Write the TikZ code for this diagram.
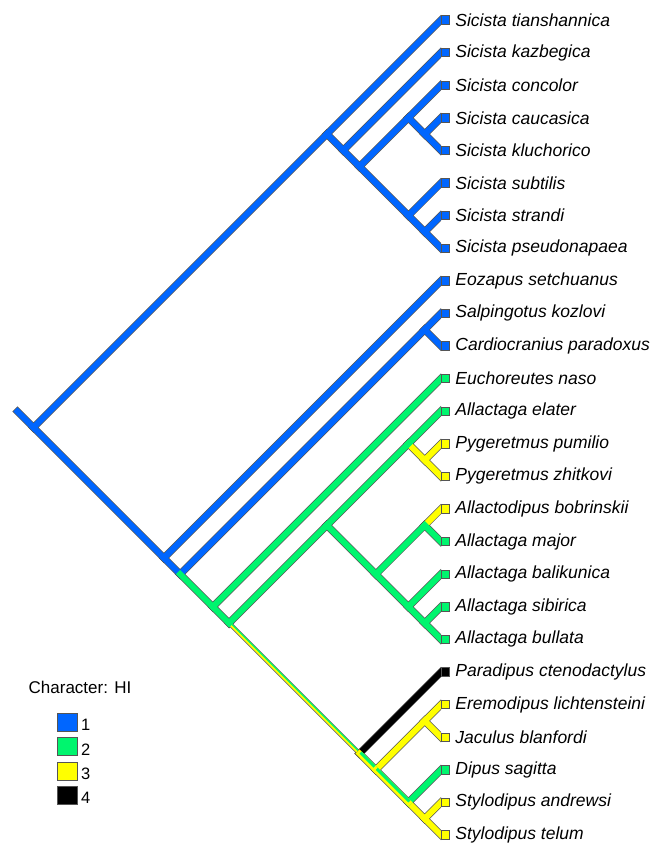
\documentclass[tikz,border=0pt]{standalone}
\usepackage{fontspec}
\setmainfont{Liberation Sans}
\usetikzlibrary{positioning}

\definecolor{stateone}{RGB}{0,102,255}
\definecolor{statetwo}{RGB}{0,245,110}
\definecolor{statethree}{RGB}{255,255,0}
\definecolor{statefour}{RGB}{0,0,0}
\definecolor{rim}{RGB}{85,85,85}

\tikzset{
    branch/.style={line width=6pt, line cap=rect},
    rimline/.style={line width=7.4pt, line cap=rect, draw=rim},
    tipbox/.style={draw=rim, line width=0.8pt, minimum size=8.4pt,
        inner sep=0pt, anchor=west},
    taxon/.style={inner sep=0pt, anchor=west,
        font=\fontsize{17.5}{20}\selectfont\itshape},
    keybox/.style={draw=rim, line width=0.8pt, minimum width=20pt,
        minimum height=18pt, inner sep=0pt},
    keylabel/.style={inner sep=0pt, font=\fontsize{16.5}{18}\selectfont}
}

\def\oneedges{stub/r, r/sic, sic/t1, sic/sicA, sicA/t2, sicA/sicB,
    sicB/sicC, sicC/t3, sicC/sicD, sicD/t4, sicD/t5, sicB/sicE, sicE/t6,
    sicE/sicF, sicF/t7, sicF/t8, r/dipA, dipA/t9, dipA/dipB, dipB/card,
    card/t10, card/t11}
\def\twoedges{dipB/dipC, dipC/t12, dipC/dipD, dipD/allA, allA/allB,
    allB/t13, allA/allC, allC/allD, allD/t17, allC/allE, allE/t18,
    allE/allF, allF/t19, allF/t20, jacD/t24}
\def\threeedges{allB/pyg, pyg/t14, pyg/t15, allD/t16, jacB/jacC,
    jacC/t22, jacC/t23, jacD/sty, sty/t25, sty/t26}
\def\fouredges{jacA/t21}
\def\halfedges{jacA/jacB, jacB/jacD}

\begin{document}
\begin{tikzpicture}[x=1pt, y=-1pt]
    \useasboundingbox (0,0) rectangle (660,845);

    \coordinate (stub) at (17.5,411.5);
    \coordinate (r) at (33.5,427.5);
    \coordinate (sic) at (326.9,134.1);
    \coordinate (sicA) at (343.2,150.4);
    \coordinate (sicB) at (359.5,166.7);
    \coordinate (sicC) at (408.4,117.8);
    \coordinate (sicD) at (424.7,134.1);
    \coordinate (sicE) at (408.4,215.6);
    \coordinate (sicF) at (424.7,231.9);
    \coordinate (dipA) at (163.9,557.9);
    \coordinate (dipB) at (180.2,574.2);
    \coordinate (card) at (424.7,329.7);
    \coordinate (dipC) at (212.8,606.8);
    \coordinate (dipD) at (229.1,623.1);
    \coordinate (allA) at (326.9,525.3);
    \coordinate (allB) at (408.4,443.8);
    \coordinate (pyg) at (424.7,460.1);
    \coordinate (allC) at (375.8,574.2);
    \coordinate (allD) at (424.7,525.3);
    \coordinate (allE) at (408.4,606.8);
    \coordinate (allF) at (424.7,623.1);
    \coordinate (jacA) at (359.5,753.5);
    \coordinate (jacB) at (375.8,769.8);
    \coordinate (jacC) at (424.7,720.9);
    \coordinate (jacD) at (408.4,802.4);
    \coordinate (sty) at (424.7,818.7);

    \coordinate (t1) at (441,20);
    \coordinate (t2) at (441,52.6);
    \coordinate (t3) at (441,85.2);
    \coordinate (t4) at (441,117.8);
    \coordinate (t5) at (441,150.4);
    \coordinate (t6) at (441,183);
    \coordinate (t7) at (441,215.6);
    \coordinate (t8) at (441,248.2);
    \coordinate (t9) at (441,280.8);
    \coordinate (t10) at (441,313.4);
    \coordinate (t11) at (441,346);
    \coordinate (t12) at (441,378.6);
    \coordinate (t13) at (441,411.2);
    \coordinate (t14) at (441,443.8);
    \coordinate (t15) at (441,476.4);
    \coordinate (t16) at (441,509);
    \coordinate (t17) at (441,541.6);
    \coordinate (t18) at (441,574.2);
    \coordinate (t19) at (441,606.8);
    \coordinate (t20) at (441,639.4);
    \coordinate (t21) at (441,672);
    \coordinate (t22) at (441,704.6);
    \coordinate (t23) at (441,737.2);
    \coordinate (t24) at (441,769.8);
    \coordinate (t25) at (441,802.4);
    \coordinate (t26) at (441,835);

    \begin{scope}
        \clip (0,0) rectangle (441,845);
        \foreach \a/\b in \oneedges {\draw[rimline] (\a) -- (\b);}
        \foreach \a/\b in \twoedges {\draw[rimline] (\a) -- (\b);}
        \foreach \a/\b in \threeedges {\draw[rimline] (\a) -- (\b);}
        \foreach \a/\b in \fouredges {\draw[rimline] (\a) -- (\b);}
        \foreach \a/\b in \halfedges {\draw[rimline] (\a) -- (\b);}
        \draw[rimline, line width=4.4pt] (dipD) -- (jacA);

        % equivocal stem
        \draw[line width=3pt, statethree] (dipD) -- (jacA);
        \draw[line width=1.2pt, statetwo]
            ([shift={(0.8,-0.8)}]dipD) -- ([shift={(0.8,-0.8)}]jacA);

        \foreach \a/\b in \oneedges {\draw[branch, stateone] (\a) -- (\b);}
        \foreach \a/\b in \threeedges {\draw[branch, statethree] (\a) -- (\b);}
        \foreach \a/\b in \twoedges {\draw[branch, statetwo] (\a) -- (\b);}
        \foreach \a/\b in \fouredges {\draw[branch, statefour] (\a) -- (\b);}
        \foreach \a/\b in \halfedges {
            \draw[branch, statethree] (\a) -- (\b);
            \draw[line width=3pt, statetwo]
                ([shift={(1.06,-1.06)}]\a) -- ([shift={(1.06,-1.06)}]\b);
        }
    \end{scope}

    \node[tipbox, fill=stateone] (b1) at (t1) {};
    \node[taxon, right=5pt of b1] (n1) {Sicista tianshannica};
    \node[tipbox, fill=stateone] (b2) at (t2) {};
    \node[taxon, right=5pt of b2] (n2) {Sicista kazbegica};
    \node[tipbox, fill=stateone] (b3) at (t3) {};
    \node[taxon, right=5pt of b3] (n3) {Sicista concolor};
    \node[tipbox, fill=stateone] (b4) at (t4) {};
    \node[taxon, right=5pt of b4] (n4) {Sicista caucasica};
    \node[tipbox, fill=stateone] (b5) at (t5) {};
    \node[taxon, right=5pt of b5] (n5) {Sicista kluchorico};
    \node[tipbox, fill=stateone] (b6) at (t6) {};
    \node[taxon, right=5pt of b6] (n6) {Sicista subtilis};
    \node[tipbox, fill=stateone] (b7) at (t7) {};
    \node[taxon, right=5pt of b7] (n7) {Sicista strandi};
    \node[tipbox, fill=stateone] (b8) at (t8) {};
    \node[taxon, right=5pt of b8] (n8) {Sicista pseudonapaea};
    \node[tipbox, fill=stateone] (b9) at (t9) {};
    \node[taxon, right=5pt of b9] (n9) {Eozapus setchuanus};
    \node[tipbox, fill=stateone] (b10) at (t10) {};
    \node[taxon, right=5pt of b10] (n10) {Salpingotus kozlovi};
    \node[tipbox, fill=stateone] (b11) at (t11) {};
    \node[taxon, right=5pt of b11] (n11) {Cardiocranius paradoxus};
    \node[tipbox, fill=statetwo] (b12) at (t12) {};
    \node[taxon, right=5pt of b12] (n12) {Euchoreutes naso};
    \node[tipbox, fill=statetwo] (b13) at (t13) {};
    \node[taxon, right=5pt of b13] (n13) {Allactaga elater};
    \node[tipbox, fill=statethree] (b14) at (t14) {};
    \node[taxon, right=5pt of b14] (n14) {Pygeretmus pumilio};
    \node[tipbox, fill=statethree] (b15) at (t15) {};
    \node[taxon, right=5pt of b15] (n15) {Pygeretmus zhitkovi};
    \node[tipbox, fill=statethree] (b16) at (t16) {};
    \node[taxon, right=5pt of b16] (n16) {Allactodipus bobrinskii};
    \node[tipbox, fill=statetwo] (b17) at (t17) {};
    \node[taxon, right=5pt of b17] (n17) {Allactaga major};
    \node[tipbox, fill=statetwo] (b18) at (t18) {};
    \node[taxon, right=5pt of b18] (n18) {Allactaga balikunica};
    \node[tipbox, fill=statetwo] (b19) at (t19) {};
    \node[taxon, right=5pt of b19] (n19) {Allactaga sibirica};
    \node[tipbox, fill=statetwo] (b20) at (t20) {};
    \node[taxon, right=5pt of b20] (n20) {Allactaga bullata};
    \node[tipbox, fill=statefour] (b21) at (t21) {};
    \node[taxon, right=5pt of b21] (n21) {Paradipus ctenodactylus};
    \node[tipbox, fill=statethree] (b22) at (t22) {};
    \node[taxon, right=5pt of b22] (n22) {Eremodipus lichtensteini};
    \node[tipbox, fill=statethree] (b23) at (t23) {};
    \node[taxon, right=5pt of b23] (n23) {Jaculus blanfordi};
    \node[tipbox, fill=statetwo] (b24) at (t24) {};
    \node[taxon, right=5pt of b24] (n24) {Dipus sagitta};
    \node[tipbox, fill=statethree] (b25) at (t25) {};
    \node[taxon, right=5pt of b25] (n25) {Stylodipus andrewsi};
    \node[tipbox, fill=statethree] (b26) at (t26) {};
    \node[taxon, right=5pt of b26] (n26) {Stylodipus telum};

    \node[font=\fontsize{17}{20}\selectfont, inner sep=0pt]
        (keytitle) at (80,687) {Character: HI};
    \node[keybox, fill=stateone] (k1) at (67.5,722.5) {};
    \node[keybox, fill=statetwo] (k2) at (67.5,746.8) {};
    \node[keybox, fill=statethree] (k3) at (67.5,771.1) {};
    \node[keybox, fill=statefour] (k4) at (67.5,795.4) {};
    \node[keylabel, right=3pt of k1, yshift=-2.5pt] (l1) {1};
    \node[keylabel, right=3pt of k2, yshift=-2.5pt] (l2) {2};
    \node[keylabel, right=3pt of k3, yshift=-2.5pt] (l3) {3};
    \node[keylabel, right=3pt of k4, yshift=-2.5pt] (l4) {4};
\end{tikzpicture}
\end{document}
